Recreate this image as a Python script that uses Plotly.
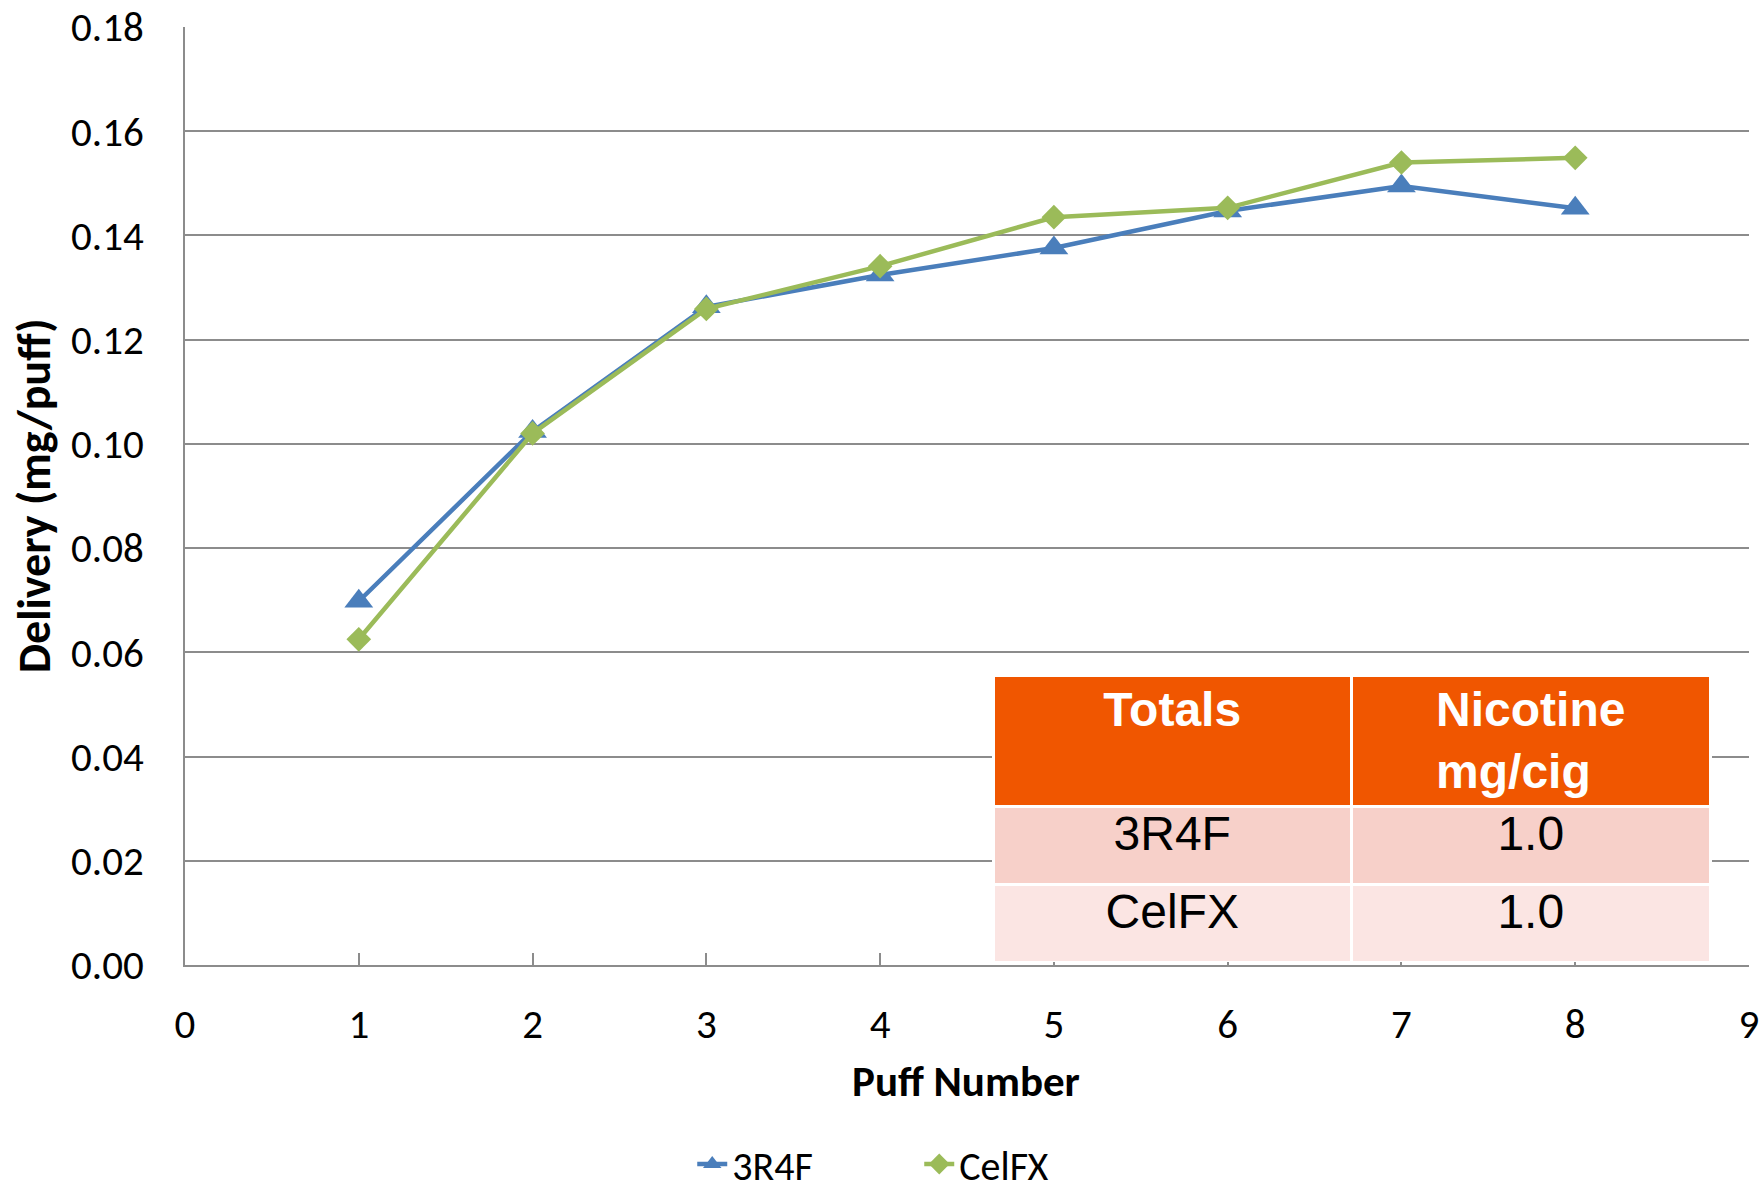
import plotly.graph_objects as go

puffs = [1, 2, 3, 4, 5, 6, 7, 8]
r3r4f = [0.0698, 0.1024, 0.1263, 0.1324, 0.1376, 0.1447, 0.1495, 0.1452]
celfx = [0.0625, 0.1020, 0.1259, 0.1341, 0.1435, 0.1453, 0.1540, 0.1549]
series_names = ["3R4F", "CelFX"]

table_header = ["Totals", "Nicotine<br>mg/cig"]
table_products = ["3R4F", "CelFX"]
table_nicotine = ["1.0", "1.0"]

FONT = "Carlito, Lato, sans-serif"
TFONT = "Liberation Sans, Arial"
W, H = 1761, 1192
L, R, T, B = 185, 12, 27, 227
pw, ph = W - L - R, H - T - B

fig = go.Figure()
fig.add_trace(go.Scatter(
    x=puffs, y=r3r4f, name=series_names[0], mode="lines+markers",
    line=dict(color="#4A7EBB", width=4.5),
    marker=dict(symbol="triangle-up", size=25, color="#4A7EBB"),
))
fig.add_trace(go.Scatter(
    x=puffs, y=celfx, name=series_names[1], mode="lines+markers",
    line=dict(color="#9BBB59", width=4.5),
    marker=dict(symbol="diamond", size=19, color="#9BBB59"),
))

def px_x(p):
    return (p - L) / pw

def px_y(p):
    return (H - B - p) / ph

header_vals = [table_header[0] + "<br>&nbsp;", table_header[1]]

fig.add_trace(go.Table(
    domain=dict(x=[px_x(993), px_x(1711)], y=[px_y(962), px_y(675)]),
    columnwidth=[1, 1],
    header=dict(
        values=header_vals,
        fill_color="#F05600",
        line=dict(color="white", width=3),
        align="center",
        font=dict(family=TFONT, size=48, color="white", weight="bold"),
        height=129,
    ),
    cells=dict(
        values=[table_products, table_nicotine],
        fill_color=[["#F7D0C9", "#FBE5E3"]] * 2,
        line=dict(color="white", width=3),
        align="center",
        font=dict(family=TFONT, size=48, color="black"),
        height=78,
    ),
))

fig.update_layout(
    width=W, height=H,
    margin=dict(l=L, r=R, t=T, b=B, autoexpand=False),
    paper_bgcolor="white", plot_bgcolor="white",
    font=dict(family=FONT, size=41, color="black"),
    showlegend=True,
    legend=dict(
        orientation="h", xref="container", yref="container",
        x=0.522, xanchor="center", y=1 - 1164 / H, yanchor="middle",
        font=dict(family=FONT, size=40), entrywidth=182, entrywidthmode="pixels",
        traceorder="normal",
    ),
    xaxis=dict(
        range=[0, 9], dtick=1, tick0=0, showgrid=False, zeroline=False,
        showline=True, linecolor="#8C8C8C", linewidth=2,
        ticks="inside", ticklen=12, tickcolor="#8C8C8C", tickwidth=2,
        ticklabelstandoff=22, tickfont=dict(family=FONT, size=41),
    ),
    yaxis=dict(
        range=[0, 0.18], dtick=0.02, tick0=0, tickformat=".2f",
        showgrid=True, gridcolor="#8C8C8C", gridwidth=2, zeroline=False,
        showline=True, linecolor="#8C8C8C", linewidth=2,
        ticks="", ticklabelstandoff=31, tickfont=dict(family=FONT, size=41),
    ),
    annotations=[
        dict(text="<b>Puff Number</b>", xref="paper", yref="paper",
             x=(860 * 1.123 - L) / pw, y=px_y(1081), xanchor="center", yanchor="middle",
             showarrow=False, font=dict(family=FONT, size=43)),
        dict(text="<b>Delivery (mg/puff)</b>", xref="paper", yref="paper",
             x=px_x(34), y=0.5, xanchor="center", yanchor="middle", textangle=-90,
             showarrow=False, font=dict(family=FONT, size=46)),
    ],
)

fig.write_html("out.html")
